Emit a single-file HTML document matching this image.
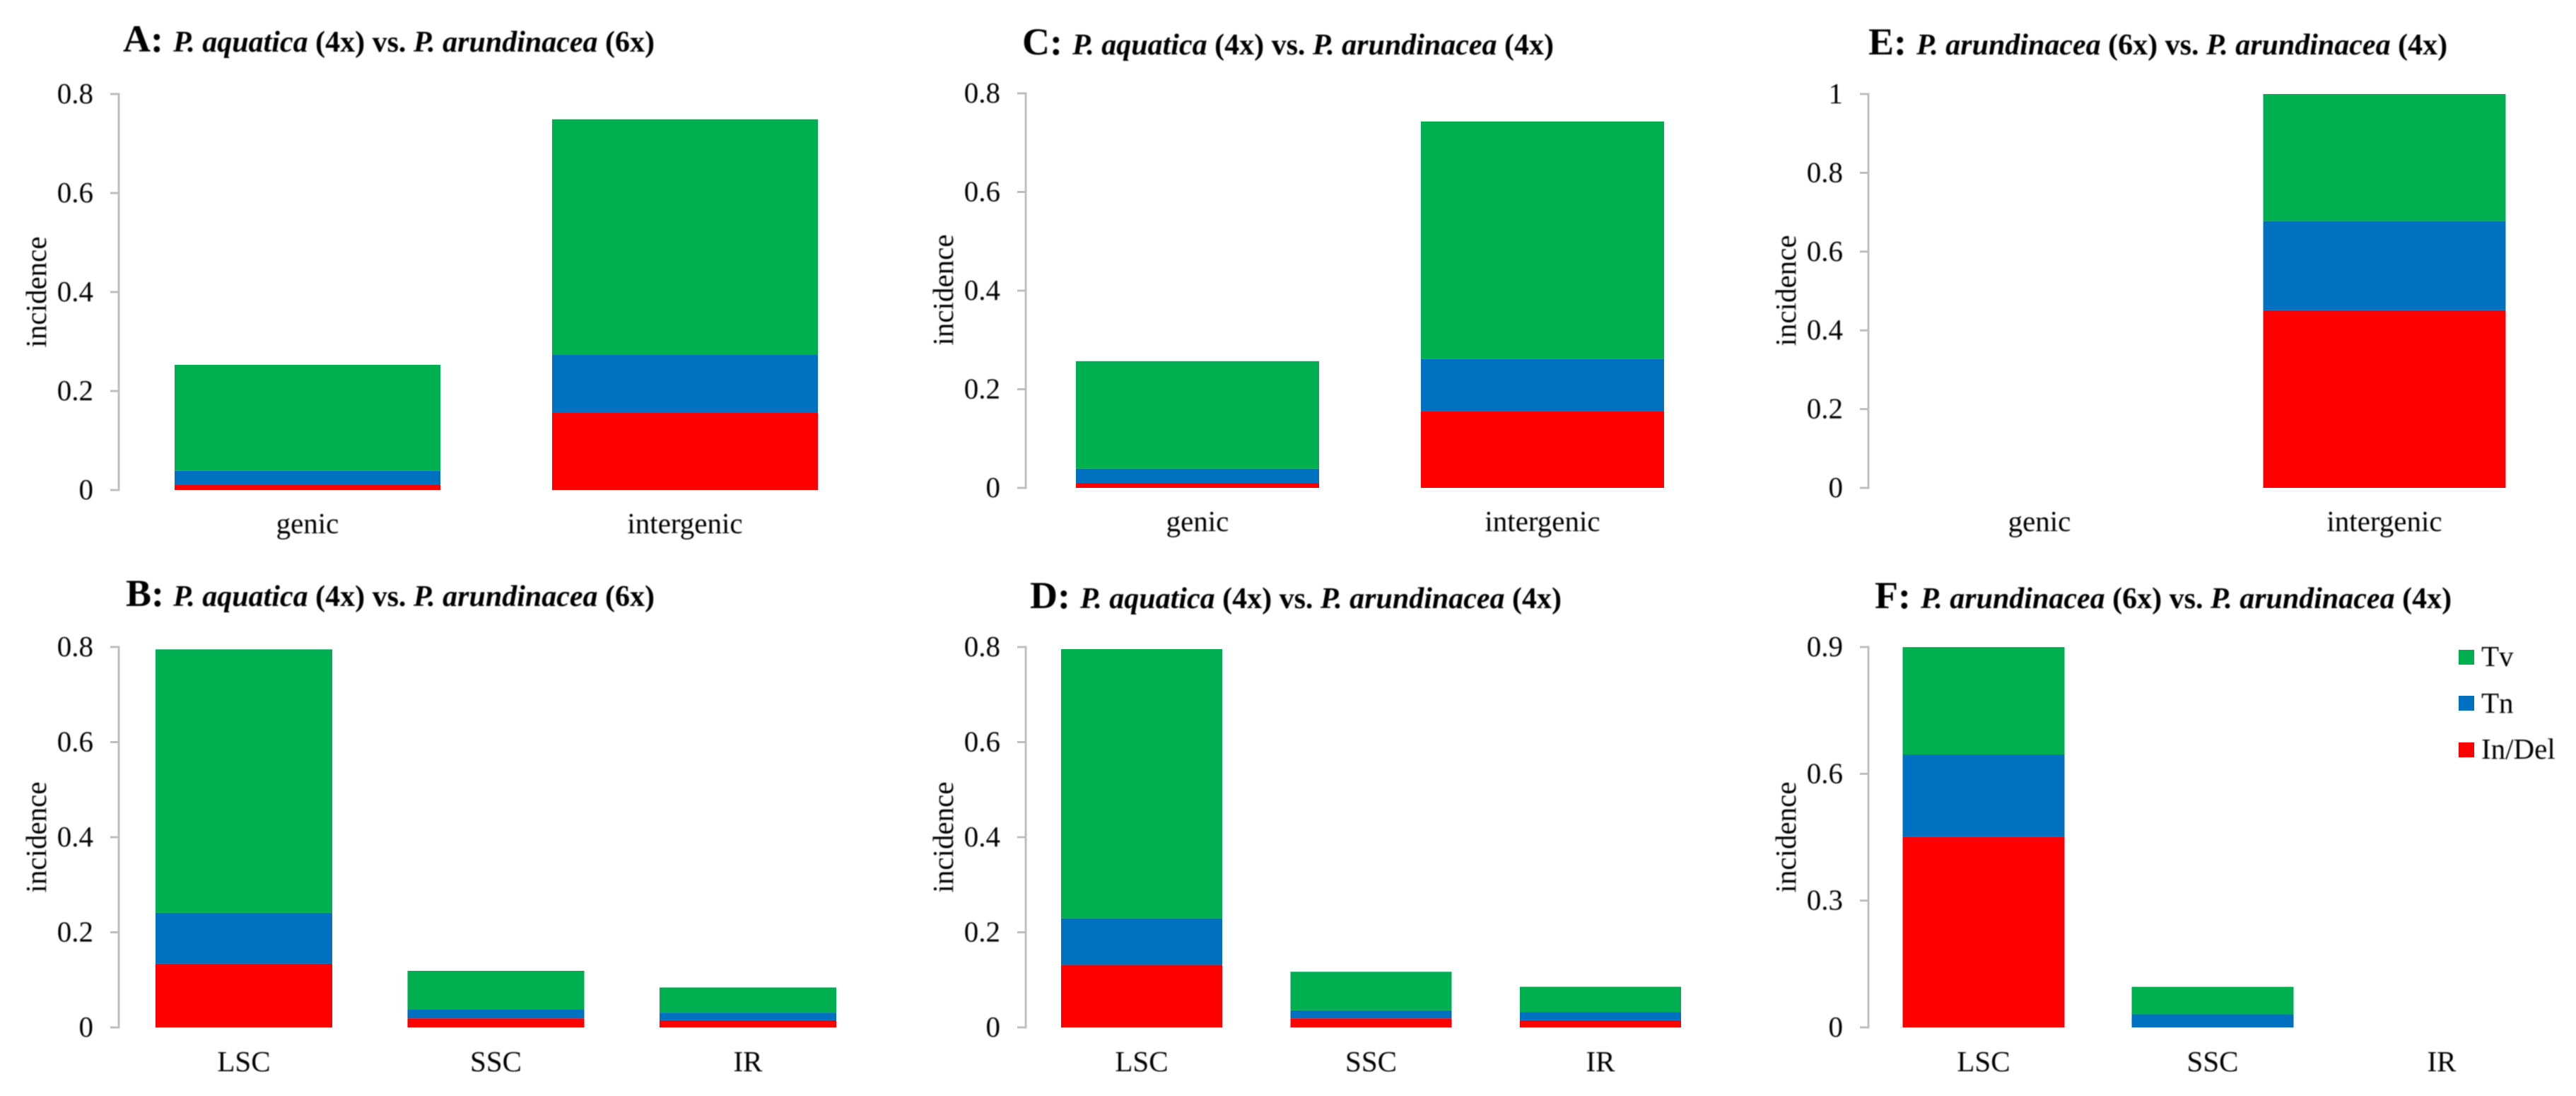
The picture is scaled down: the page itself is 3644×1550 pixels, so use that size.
<!DOCTYPE html>
<html lang="en">
<head>
<meta charset="utf-8">
<title>Mutation incidence by region</title>
<style>
  html, body { margin: 0; padding: 0; background: #fff; }
  svg { display: block; }
  text { font-family: "Liberation Serif", "Times New Roman", serif; fill: #000; filter: blur(0.7px); }
  .t-letter { font-size: 54px; font-weight: bold; }
  .t-sub { font-size: 42px; font-weight: bold; }
  .t-sub .i { font-style: italic; }
  .tick { font-size: 41px; text-anchor: end; }
  .cat { font-size: 41px; text-anchor: middle; }
  .ylab { font-size: 41px; text-anchor: middle; }
  .leg { font-size: 41px; }
</style>
</head>
<body>
<svg id="chart" width="3644" height="1550" viewBox="0 0 3644 1550" xmlns="http://www.w3.org/2000/svg">
  <rect width="3644" height="1550" fill="#ffffff"/>

  <g>
    <text class="t-letter" x="174" y="73">A:</text>
    <text class="t-sub" x="245" y="73"><tspan class="i">P. aquatica</tspan> (4x) vs. <tspan class="i">P. arundinacea</tspan> (6x)</text>
  </g>
  <g>
    <text class="t-letter" x="178" y="857">B:</text>
    <text class="t-sub" x="245" y="857"><tspan class="i">P. aquatica</tspan> (4x) vs. <tspan class="i">P. arundinacea</tspan> (6x)</text>
  </g>
  <g>
    <text class="t-letter" x="1446" y="77">C:</text>
    <text class="t-sub" x="1517" y="77"><tspan class="i">P. aquatica</tspan> (4x) vs. <tspan class="i">P. arundinacea</tspan> (4x)</text>
  </g>
  <g>
    <text class="t-letter" x="1457" y="860">D:</text>
    <text class="t-sub" x="1528" y="860"><tspan class="i">P. aquatica</tspan> (4x) vs. <tspan class="i">P. arundinacea</tspan> (4x)</text>
  </g>
  <g>
    <text class="t-letter" x="2643" y="77">E:</text>
    <text class="t-sub" x="2711" y="77"><tspan class="i">P. arundinacea</tspan> (6x) vs. <tspan class="i">P. arundinacea</tspan> (4x)</text>
  </g>
  <g>
    <text class="t-letter" x="2652" y="860">F:</text>
    <text class="t-sub" x="2717" y="860"><tspan class="i">P. arundinacea</tspan> (6x) vs. <tspan class="i">P. arundinacea</tspan> (4x)</text>
  </g>

  <g>
    <g>
      <rect x="3478" y="919" width="22" height="21" fill="#00b050"/>
      <text class="leg" x="3510" y="942">Tv</text>
    </g>
    <g>
      <rect x="3478" y="984" width="22" height="21" fill="#0070c0"/>
      <text class="leg" x="3510" y="1008">Tn</text>
    </g>
    <g>
      <rect x="3478" y="1050" width="22" height="21" fill="#ff0000"/>
      <text class="leg" x="3510" y="1073">In/Del</text>
    </g>
  </g>
</svg>

<script>
// Category labels
const regionCategories = ['genic', 'intergenic'];
const genomeCategories = ['LSC', 'SSC', 'IR'];

// Tick labels
const ticksTo08 = ['0', '0.2', '0.4', '0.6', '0.8'];
const ticksTo1 = ['0', '0.2', '0.4', '0.6', '0.8', '1'];
const ticksTo09 = ['0', '0.3', '0.6', '0.9'];

// Stacked segment values
const aInDel = [0.010, 0.157];
const aTn = [0.029, 0.117];
const aTv = [0.214, 0.475];

const bInDel = [0.134, 0.019, 0.015];
const bTn = [0.107, 0.019, 0.016];
const bTv = [0.554, 0.081, 0.053];

const cInDel = [0.010, 0.156];
const cTn = [0.029, 0.105];
const cTv = [0.218, 0.482];

const dInDel = [0.1315, 0.019, 0.015];
const dTn = [0.098, 0.017, 0.017];
const dTv = [0.566, 0.081, 0.0535];

const eInDel = [0, 0.451];
const eTn = [0, 0.2265];
const eTv = [0, 0.3225];

const fInDel = [0.4507, 0, 0];
const fTn = [0.195, 0.031, 0];
const fTv = [0.254, 0.065, 0];

const SVG_NS = 'http://www.w3.org/2000/svg';
const root = document.getElementById('chart');

const panels = [
  { id: 'a', cats: regionCategories, ticks: ticksTo08, inDel: aInDel, tn: aTn, tv: aTv,
    axisX: 168, y0: 693, yTop: 133, firstCenter: 435, step: 534, barW: 376, labelX: 65, labelY: 413, catDy: 61 },
  { id: 'b', cats: genomeCategories, ticks: ticksTo08, inDel: bInDel, tn: bTn, tv: bTv,
    axisX: 168, y0: 1453, yTop: 915, firstCenter: 345, step: 356.5, barW: 250, labelX: 65, labelY: 1184, catDy: 62 },
  { id: 'c', cats: regionCategories, ticks: ticksTo08, inDel: cInDel, tn: cTn, tv: cTv,
    axisX: 1451, y0: 690, yTop: 132, firstCenter: 1694, step: 488, barW: 344, labelX: 1348, labelY: 410, catDy: 61 },
  { id: 'd', cats: genomeCategories, ticks: ticksTo08, inDel: dInDel, tn: dTn, tv: dTv,
    axisX: 1451, y0: 1453, yTop: 915, firstCenter: 1615, step: 324.5, barW: 228, labelX: 1348, labelY: 1184, catDy: 62 },
  { id: 'e', cats: regionCategories, ticks: ticksTo1, inDel: eInDel, tn: eTn, tv: eTv,
    axisX: 2643, y0: 690, yTop: 133, firstCenter: 2885, step: 488, barW: 343, labelX: 2540, labelY: 411, catDy: 61 },
  { id: 'f', cats: genomeCategories, ticks: ticksTo09, inDel: fInDel, tn: fTn, tv: fTv,
    axisX: 2643, y0: 1453, yTop: 915, firstCenter: 2806, step: 324, barW: 229, labelX: 2540, labelY: 1184, catDy: 62 }
];

function create(tag, parent, attrs, content) {
  const node = document.createElementNS(SVG_NS, tag);
  Object.keys(attrs).forEach(function (k) { node.setAttribute(k, attrs[k]); });
  if (content !== undefined) node.textContent = content;
  parent.appendChild(node);
  return node;
}

function drawPanel(p) {
  const maxTick = parseFloat(p.ticks[p.ticks.length - 1]);
  const yScale = function (v) { return p.y0 - (v / maxTick) * (p.y0 - p.yTop); };
  const xCenter = function (i) { return p.firstCenter + i * p.step; };

  const g = create('g', root, {});
  
  

  const axis = create('line', g, { x1: p.axisX, x2: p.axisX, y1: yScale(maxTick) - 1.5, y2: yScale(0) + 1.5, stroke: '#bfbfbf', 'stroke-width': 3 });
  
  

  p.ticks.forEach(function (label) {
    const v = parseFloat(label);
    const tick = create('line', g, { x1: p.axisX - 12, x2: p.axisX, y1: yScale(v), y2: yScale(v), stroke: '#bfbfbf', 'stroke-width': 3 });
    
    
    const tickText = create('text', g, { class: 'tick', x: p.axisX - 36, y: yScale(v) + 13 }, label);
    
    
  });

  const yLabel = create('text', g, { class: 'ylab', transform: 'translate(' + p.labelX + ',' + p.labelY + ') rotate(-90)' }, 'incidence');
  
  

  p.cats.forEach(function (cat, i) {
    const catText = create('text', g, { class: 'cat', x: xCenter(i), y: p.y0 + p.catDy }, cat);
    
    

    let base = 0;
    [[p.inDel, '#ff0000', 'indel'], [p.tn, '#0070c0', 'tn'], [p.tv, '#00b050', 'tv']].forEach(function (s) {
      const val = s[0][i];
      const top = yScale(base + val);
      const bottom = yScale(base);
      const bar = create('rect', g, { x: xCenter(i) - p.barW / 2, y: top, width: p.barW, height: bottom - top, fill: s[1] });
      
      
      base += val;
    });
  });
}

panels.forEach(drawPanel);
</script>
</body>
</html>
